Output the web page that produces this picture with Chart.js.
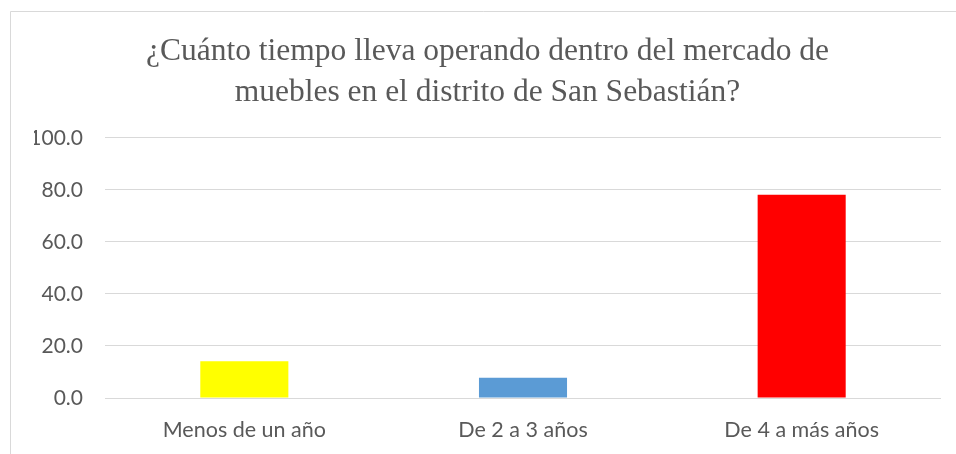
<!DOCTYPE html>
<html>
<head>
<meta charset="utf-8">
<script src="https://cdn.jsdelivr.net/npm/chart.js@4.4.1/dist/chart.umd.min.js"></script>
<style>
html,body{margin:0;padding:0;background:#fff;}
#wrap{position:relative;width:956px;height:454px;}
</style>
</head>
<body>
<div id="wrap"><canvas id="c" width="956" height="454"></canvas></div>
<script>
const categories = ["Menos de un año", "De 2 a 3 años", "De 4 a más años"];
const values = [14.1, 7.8, 78.1];
const barColors = ["#FFFF00", "#5B9BD5", "#FF0000"];
const titleLines = ["¿Cuánto tiempo lleva operando dentro del mercado de", "muebles en el distrito de San Sebastián?"];

const borderPlugin = {
  id: 'outerBorder',
  beforeDraw(chart) {
    const ctx = chart.ctx;
    ctx.save();
    ctx.fillStyle = '#fff';
    ctx.fillRect(0, 0, chart.width, chart.height);
    ctx.strokeStyle = '#d9d9d9';
    ctx.lineWidth = 1;
    ctx.beginPath();
    ctx.moveTo(10.5, chart.height);
    ctx.lineTo(10.5, 11.5);
    ctx.lineTo(chart.width, 11.5);
    ctx.stroke();
    ctx.restore();
  }
};

new Chart(document.getElementById('c'), {
  type: 'bar',
  data: {
    labels: categories,
    datasets: [{
      data: values,
      backgroundColor: barColors,
      borderWidth: 0,
      categoryPercentage: 1,
      barPercentage: 0.316
    }]
  },
  options: {
    responsive: false,
    animation: false,
    devicePixelRatio: 1,
    layout: { padding: { left: 34, right: 15, top: 0, bottom: 14 } },
    plugins: {
      legend: { display: false },
      tooltip: { enabled: false },
      title: {
        display: true,
        text: titleLines,
        color: '#595959',
        font: { family: '"Liberation Serif", "Times New Roman", serif', size: 31.5, weight: 'normal', lineHeight: 1.3 },
        padding: { top: 31, bottom: 25 }
      }
    },
    scales: {
      x: {
        afterFit(s) { s.height = 42; },
        grid: { display: false, drawTicks: false },
        border: { display: false },
        ticks: { color: '#595959', font: { family: 'Lato, "Open Sans", sans-serif', size: 21.5 }, padding: 19 }
      },
      y: {
        min: 0, max: 100,
        afterFit(s) { s.width = 71; },
        grid: { color: '#d9d9d9', lineWidth: 1, drawTicks: false },
        border: { display: false },
        ticks: {
          stepSize: 20,
          color: '#595959',
          font: { family: 'Lato, "Open Sans", sans-serif', size: 21 },
          padding: 22,
          callback: v => Number(v).toFixed(1)
        }
      }
    }
  },
  plugins: [borderPlugin]
});
</script>
</body>
</html>
